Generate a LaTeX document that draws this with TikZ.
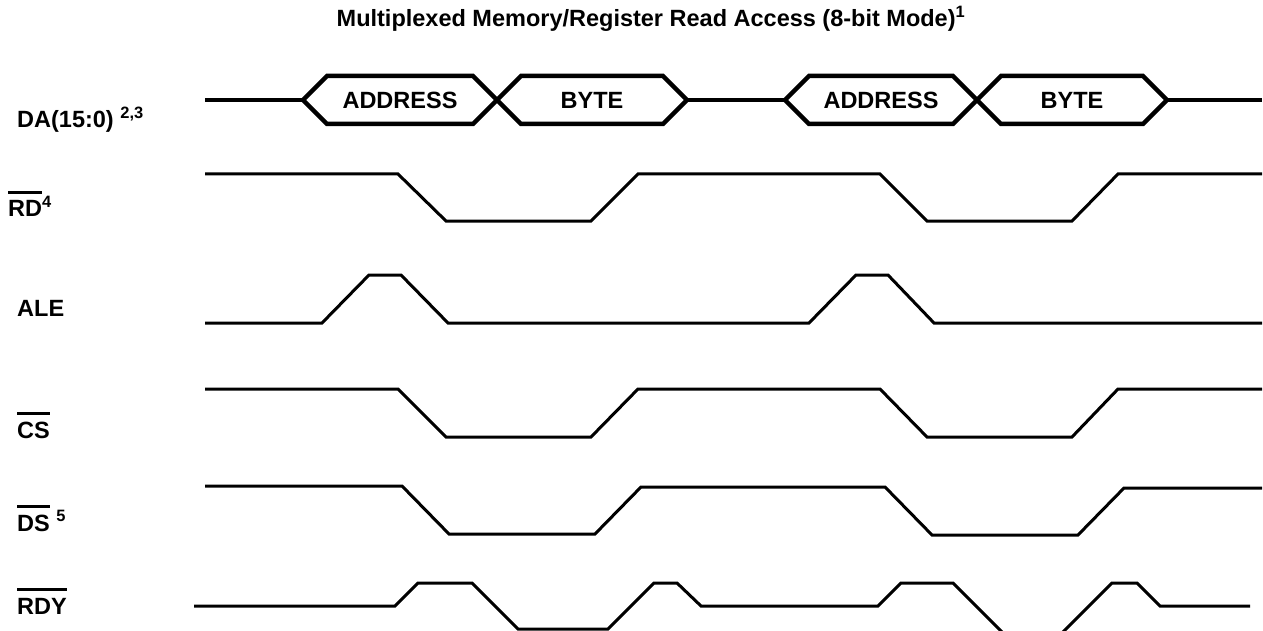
\documentclass[tikz,border=0pt]{standalone}
\usepackage{fontspec}
\setmainfont{Liberation Sans}

\newsavebox{\lblbox}
\newcommand{\barred}[1]{\sbox{\lblbox}{#1}\rlap{\rule[\dimexpr\ht\lblbox+7pt\relax]{\wd\lblbox}{3pt}}\usebox{\lblbox}}

\begin{document}
\begin{tikzpicture}[x=1pt,y=-1pt,
    wave/.style={line width=3pt},
    bus/.style={line width=4.5pt},
    txt/.style={inner sep=0pt,font=\fontsize{23.5}{28}\selectfont\bfseries},
    lbl/.style={txt,anchor=base west}]
  \useasboundingbox (0,0) rectangle (1263,631);

  \node[txt] (title) at (651,19) {Multiplexed Memory/Register Read Access (8-bit Mode)\textsuperscript{1}};

  % signal names
  \node[lbl] (da) at (17,128) {DA(15:0) \textsuperscript{2,3}};
  \node[lbl] (rd) at (8,217) {\barred{RD}\textsuperscript{4}};
  \node[lbl] (ale) at (17,316) {ALE};
  \node[lbl] (cs) at (17,438) {\barred{CS}};
  \node[lbl] (ds) at (17,531) {\barred{DS} \textsuperscript{5}};
  \node[lbl] (rdy) at (17,614) {\barred{RDY}};

  % address/data bus
  \draw[bus] (205,100) -- (303,100);
  \draw[bus] (687,100) -- (785,100);
  \draw[bus] (1167,100) -- (1262,100);
  \foreach \a/\b/\txt/\nm in {303/497/ADDRESS/adra, 497/687/BYTE/bytea,
                              785/977/ADDRESS/adrb, 977/1167/BYTE/byteb}{
    \draw[bus] (\a,100) -- ({\a+24},76) -- ({\b-24},76) -- (\b,100)
      -- ({\b-24},124) -- ({\a+24},124) -- cycle;
    \node[txt] (\nm) at ({(\a+\b)/2},100) {\txt};
  }

  % RD
  \draw[wave] (205,174) -- (398,174) -- (446,221) -- (591,221) -- (638,174)
    -- (880,174) -- (927,221) -- (1072,221) -- (1118,174) -- (1262,174);
  % ALE
  \draw[wave] (205,323) -- (322,323) -- (369,275) -- (401,275) -- (448,323)
    -- (809,323) -- (856,275) -- (888,275) -- (934,323) -- (1262,323);
  % CS
  \draw[wave] (205,389) -- (398,389) -- (446,437) -- (591,437) -- (638,389)
    -- (880,389) -- (927,437) -- (1072,437) -- (1118,389) -- (1262,389);
  % DS
  \draw[wave] (205,486) -- (402,486) -- (449,534) -- (595,534) -- (641,487)
    -- (885,487) -- (932,535) -- (1078,535) -- (1124,488) -- (1262,488);
  % RDY
  \draw[wave] (194,606) -- (395,606) -- (418,583) -- (472,583) -- (518,629)
    -- (608,629) -- (654,583) -- (677,583) -- (701,606) -- (878,606)
    -- (901,583) -- (953,583) -- (1004,634) -- (1061,634) -- (1112,583)
    -- (1137,583) -- (1160,606) -- (1250,606);
\end{tikzpicture}
\end{document}
